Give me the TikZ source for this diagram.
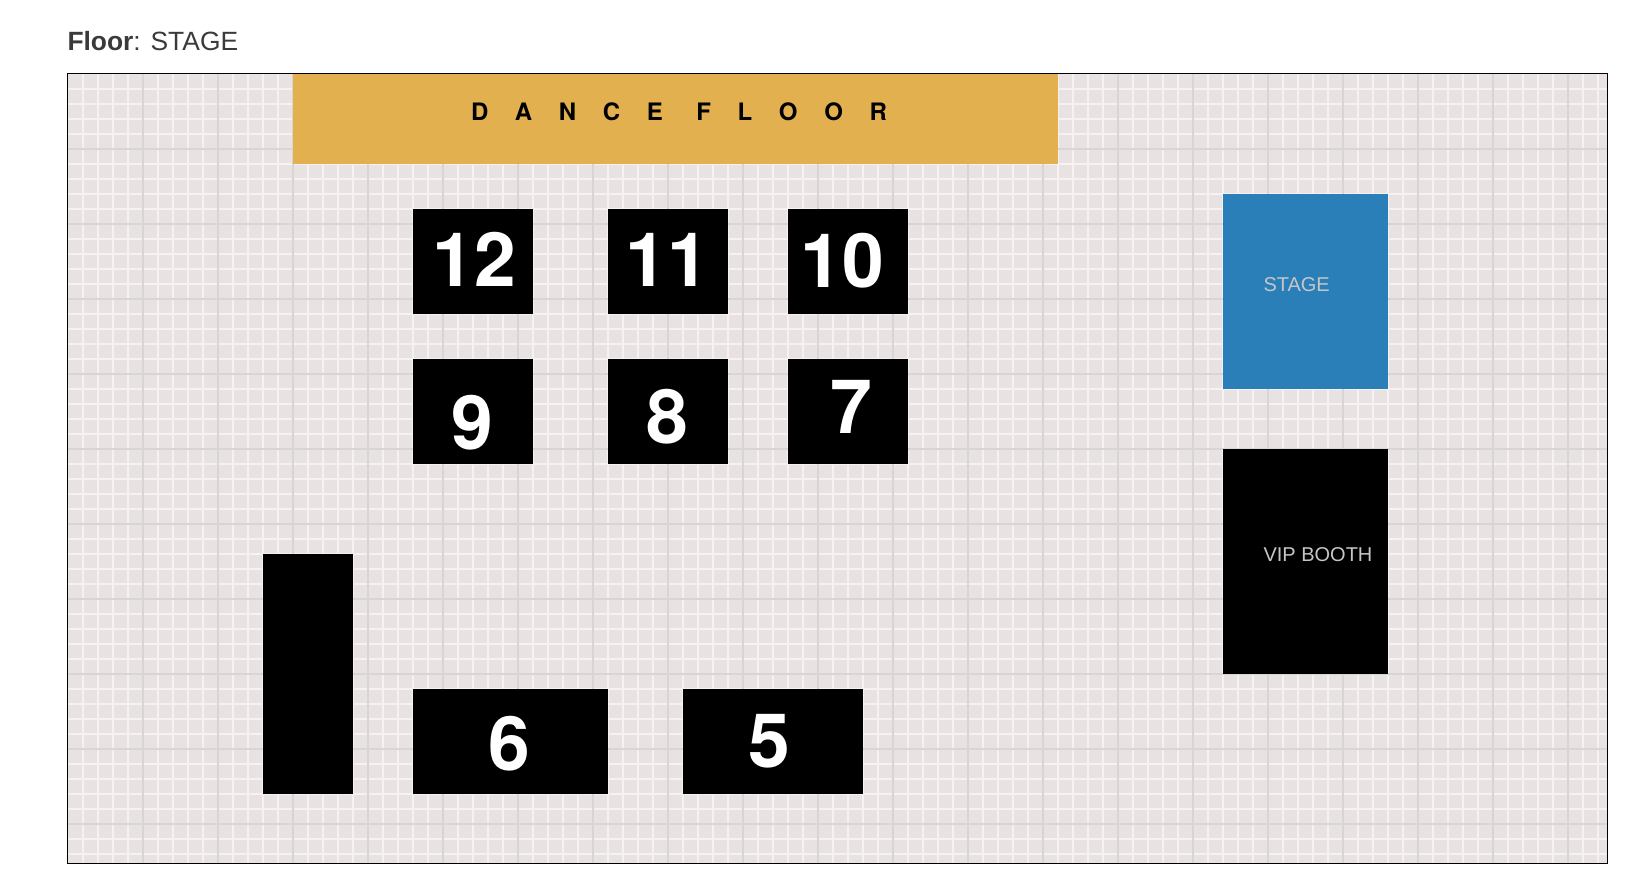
\documentclass[tikz,border=0pt]{standalone}
\usepackage{fontspec}
\setmainfont{Liberation Sans}
\newfontfamily\helvfont{TeX Gyre Heros}
\usetikzlibrary{positioning, calc}
\definecolor{floorbg}{HTML}{E9E2E2}
\definecolor{gridminor}{HTML}{F6F2F2}
\definecolor{gridmajor}{HTML}{D8D5D5}
\definecolor{dancegold}{HTML}{E2B04F}
\definecolor{stageblue}{HTML}{2A7FB8}
\definecolor{boothtext}{HTML}{C4C6C7}
\definecolor{titletext}{HTML}{3A3A3A}
\tikzset{
 every node/.style={inner sep=0pt, outer sep=0pt},
 minorline/.style={draw=gridminor, line width=1.5pt},
 majorline/.style={draw=gridmajor, line width=1.7pt},
 floorblock/.style 2 args={anchor=north west, minimum width=#1*0.75pt, minimum height=#2*0.75pt},
 tablenum/.style={anchor=base, text=white, font=\helvfont\fontsize{56.25}{60}\selectfont\bfseries},
 boothlabel/.style={anchor=base west, text=boothtext, font=\fontsize{15}{18}\selectfont}
}
\begin{document}
\begin{tikzpicture}[x=0.75pt, y=-0.75pt]
 \useasboundingbox (0,0) rectangle (1628,892);
 \node[anchor=base west, text=titletext, font=\fontsize{19.8}{24}\selectfont] (title) at (67.5,50.5) {\textbf{Floor}: STAGE};
 \fill[floorbg] (67.5,73.5) rectangle (1607.5,863.5);
 % thin lines first, heavy ones on top
 \foreach \i in {1,...,102} {
  \draw[minorline] ({68+15*\i},74) -- ({68+15*\i},863);
 }
 \foreach \j in {1,...,52} {
  \draw[minorline] (68,{74+15*\j}) -- (1607,{74+15*\j});
 }
 \foreach \i in {1,...,20} {
  \draw[majorline] ({68+75*\i},74) -- ({68+75*\i},863);
 }
 \foreach \j in {1,...,10} {
  \draw[majorline] (68,{74+75*\j}) -- (1607,{74+75*\j});
 }
 \node[floorblock={765}{90}, fill=dancegold] (dance) at (293,73.5) {};
 \node[anchor=base west, font=\helvfont\fontsize{18}{22}\selectfont\bfseries] (dancelabel) at (471,120)
  {\spaceskip=20pt D A N C E\kern5pt{} F L O O R};
 \foreach \name/\x/\y/\w/\dx/\dy in {12/413/208.5/120/1.5/25, 11/608/208.5/120/-1/25,
  10/788/208.5/120/-6/26, 9/413/358.5/120/-0.5/38, 8/608/358.5/120/-0.5/32,
  7/788/358.5/120/3.5/22, 6/413/688.5/195/-1.5/29, 5/683/688.5/180/-3.5/26} {
  \node[floorblock={\w}{105}, fill=black] (table\name) at (\x,\y) {};
  \node[tablenum] (num\name) at ($(table\name.center)+(\dx,\dy)$) {\name};
 }
 \node[floorblock={90}{240}, fill=black] (bar) at (263,553.5) {};
 \node[floorblock={165}{195}, fill=stageblue] (stage) at (1223,193.5) {};
 \node[boothlabel] (stagelabel) at (1263.5,291.5) {STAGE};
 \node[floorblock={165}{225}, fill=black] (vip) at (1223,448.5) {};
 \node[boothlabel] (viplabel) at (1263.5,561.5) {VIP BOOTH};
 \draw[black, line width=1pt] (67.5,73.5) rectangle (1607.5,863.5);
\end{tikzpicture}
\end{document}
